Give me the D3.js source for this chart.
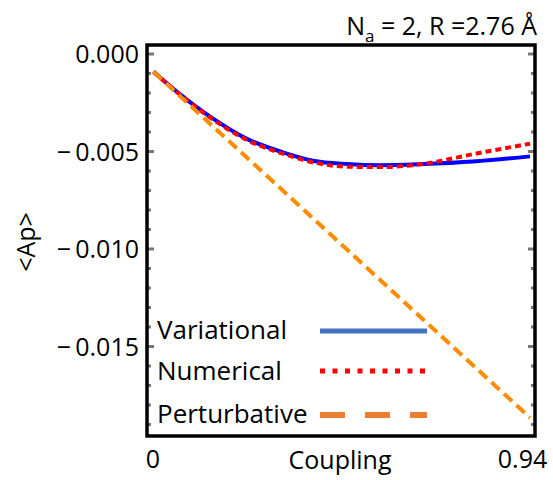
<!DOCTYPE html>
<html>
<head>
<meta charset="utf-8">
<script src="https://cdn.jsdelivr.net/npm/d3@7"></script>
<style>
	body { margin: 0; background: #fff; }
	text { font-family: "Open Sans", sans-serif; fill: #000; }
</style>
</head>
<body>
<script>
// Dati
const coupling = [0, 0.061, 0.146, 0.228, 0.321, 0.398, 0.483, 0.565, 0.665, 0.807, 0.94];
const variational = [-0.00091, -0.00198, -0.00328, -0.0043, -0.00503, -0.00547, -0.00564, -0.0057, -0.00565, -0.0055, -0.00525];
const numerical = [-0.00091, -0.002, -0.00332, -0.00436, -0.0051, -0.00555, -0.00578, -0.0058, -0.00566, -0.0051, -0.0046];
const perturbCoupling = [0, 0.94];
const perturbative = [-0.00091, -0.01865];

const yTicks = [0, -0.005, -0.010, -0.015];
const yLabels = ["0.000", "\u2212\u20090.005", "\u2212\u20090.010", "\u2212\u20090.015"];
const xTicks = [0, 0.94];
const xLabels = ["0", "0.94"];
const legendNames = ["Variational", "Numerical", "Perturbative"];

const width = 553;
const height = 480;

// Cornice del grafico
const frame = { left: 147, right: 535, top: 45, bottom: 436 };

const x = d3.scaleLinear().domain([0, 0.94]).range([153.5, 530]);
const y = d3.scaleLinear().domain([0, -0.005]).range([54, 151.5]);

const svg = d3.select("body")
	.append("svg")
	.attr("width", width)
	.attr("height", height);

// Tacche minori e maggiori (grigie, dentro la cornice)
const minor = d3.range(0, 20).map(i => -i * 0.001);
minor.forEach(v => {
	const isMajor = Math.abs((v / 0.005) - Math.round(v / 0.005)) < 1e-6;
	const len = isMajor ? 6 : 3;
	svg.append("line")
		.attr("x1", frame.left).attr("x2", frame.left + len + 1)
		.attr("y1", y(v)).attr("y2", y(v))
		.attr("stroke", "#777").attr("stroke-width", 3);
	svg.append("line")
		.attr("x1", frame.right).attr("x2", frame.right - len - 1)
		.attr("y1", y(v)).attr("y2", y(v))
		.attr("stroke", "#777").attr("stroke-width", 3);
});

// Curve
const line = d3.line()
	.x(d => x(d[0]))
	.y(d => y(d[1]))
	.curve(d3.curveMonotoneX);

svg.append("path")
	.datum(coupling.map((c, i) => [c, variational[i]]))
	.attr("d", line)
	.attr("fill", "none")
	.attr("stroke", "#0000ff")
	.attr("stroke-width", 4);

svg.append("path")
	.datum(coupling.map((c, i) => [c, numerical[i]]))
	.attr("d", line)
	.attr("fill", "none")
	.attr("stroke", "#ff0000")
	.attr("stroke-width", 4)
	.attr("stroke-dasharray", "6,4");

svg.append("path")
	.datum(perturbCoupling.map((c, i) => [c, perturbative[i]]))
	.attr("d", d3.line().x(d => x(d[0])).y(d => y(d[1])))
	.attr("fill", "none")
	.attr("stroke", "#ff8c00")
	.attr("stroke-width", 4)
	.attr("stroke-dasharray", "11,6");

// Cornice
svg.append("rect")
	.attr("x", frame.left)
	.attr("y", frame.top)
	.attr("width", frame.right - frame.left)
	.attr("height", frame.bottom - frame.top)
	.attr("fill", "none")
	.attr("stroke", "#000")
	.attr("stroke-width", 3.5);

// Etichette asse y
const yAxis = d3.axisLeft(y)
	.tickValues(yTicks)
	.tickSize(0)
	.tickPadding(0)
	.tickFormat((d, i) => yLabels[i]);

const gy = svg.append("g")
	.attr("transform", `translate(139,0)`)
	.call(yAxis);
gy.select(".domain").remove();
gy.selectAll("text")
	.style("font-size", "25px")
	.attr("dy", "0.34em");

// Etichette asse x
const xAxis = d3.axisBottom(x)
	.tickValues(xTicks)
	.tickSize(0)
	.tickPadding(0)
	.tickFormat((d, i) => xLabels[i]);

const gx = svg.append("g")
	.attr("transform", `translate(0,450)`)
	.call(xAxis);
gx.select(".domain").remove();
gx.selectAll("text")
	.style("font-size", "25px")
	.attr("dy", "0.71em")
	.attr("dx", (d, i) => i === 1 ? -8 : -1);

svg.append("text")
	.attr("x", 340)
	.attr("y", 469)
	.attr("text-anchor", "middle")
	.style("font-size", "25px")
	.text("Coupling");

svg.append("text")
	.attr("transform", "translate(35,242) rotate(-90)")
	.attr("text-anchor", "middle")
	.style("font-size", "25px")
	.text("<Ap>");

// Titolo
const title = svg.append("text")
	.attr("x", 537)
	.attr("y", 35)
	.attr("text-anchor", "end")
	.style("font-size", "25px");
title.append("tspan").text("N");
title.append("tspan").attr("dy", 7).style("font-size", "17px").text("a");
title.append("tspan").attr("dy", -7).text(" = 2, R =2.76 \u00c5");

// Legenda
const legendY = [339, 380, 423];
const legendLineY = [331, 371, 415];
const legendStyles = [
	{ color: "#4472c4", dash: null, w: 5 },
	{ color: "#ff0000", dash: "5,7.5", w: 5 },
	{ color: "#ed7d31", dash: "25,20", w: 6 }
];

legendNames.forEach((name, i) => {
	svg.append("text")
		.attr("x", 157)
		.attr("y", legendY[i])
		.style("font-size", "26px")
		.text(name);
	const l = svg.append("line")
		.attr("x1", 320).attr("x2", 427)
		.attr("y1", legendLineY[i]).attr("y2", legendLineY[i])
		.attr("stroke", legendStyles[i].color)
		.attr("stroke-width", legendStyles[i].w);
	if (legendStyles[i].dash) l.attr("stroke-dasharray", legendStyles[i].dash);
});
</script>
</body>
</html>
